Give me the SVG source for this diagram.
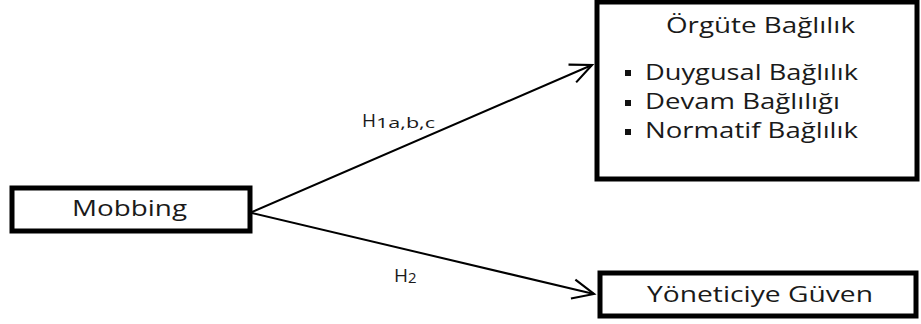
<svg xmlns="http://www.w3.org/2000/svg" width="921" height="324" viewBox="0 0 921 324">
  <style>
    .box { fill: #ffffff; stroke: #000000; stroke-width: 5; }
    .lbl { font-family: "Open Sans", "Noto Sans", "Liberation Sans", sans-serif; font-size: 21px; fill: #1a1a1a; }
    .hyp { font-family: "Open Sans", "Noto Sans", "Liberation Sans", sans-serif; font-size: 19px; fill: #1a1a1a; }
    .sub { font-size: 15px; }
    .edge { fill: none; stroke: #000000; stroke-width: 2; }
    .bullet { fill: #111111; }
  </style>
  <defs>
    <marker id="open-arrow" markerUnits="userSpaceOnUse" markerWidth="30" markerHeight="30" viewBox="-24 -12 28 24" refX="0" refY="0" orient="auto">
      <path d="M-20,-9 L0,0 L-20,9" fill="none" stroke="#000000" stroke-width="2"/>
    </marker>
  </defs>

  <!-- connectors -->
  <g id="connectors">
    <line class="edge" x1="252" y1="212" x2="592" y2="65" marker-end="url(#open-arrow)"/>
    <line class="edge" x1="252" y1="213" x2="594" y2="294" marker-end="url(#open-arrow)"/>
    <text class="hyp" x="362" y="127">H<tspan class="sub" dy="1" textLength="59" lengthAdjust="spacingAndGlyphs">1a,b,c</tspan></text>
    <text class="hyp" x="394" y="282">H<tspan class="sub" dy="1">2</tspan></text>
  </g>

  <!-- source node -->
  <g id="mobbing">
    <rect class="box" x="12" y="188" width="238" height="43"/>
    <text class="lbl" x="72" y="216" textLength="115" lengthAdjust="spacingAndGlyphs">Mobbing</text>
  </g>

  <!-- organisational commitment node -->
  <g id="orgute-baglilik">
    <rect class="box" x="597" y="2" width="320" height="177"/>
    <text class="lbl" x="666" y="33" textLength="189" lengthAdjust="spacingAndGlyphs">Örgüte Bağlılık</text>
    <rect class="bullet" x="625" y="70" width="6" height="6"/>
    <text class="lbl" x="645" y="80" textLength="213" lengthAdjust="spacingAndGlyphs">Duygusal Bağlılık</text>
    <rect class="bullet" x="625" y="100" width="6" height="6"/>
    <text class="lbl" x="645" y="109" textLength="195" lengthAdjust="spacingAndGlyphs">Devam Bağlılığı</text>
    <rect class="bullet" x="625" y="129" width="6" height="6"/>
    <text class="lbl" x="645" y="138" textLength="213" lengthAdjust="spacingAndGlyphs">Normatif Bağlılık</text>
  </g>

  <!-- trust in manager node -->
  <g id="yoneticiye-guven">
    <rect class="box" x="600" y="273" width="316" height="43"/>
    <text class="lbl" x="647" y="302" textLength="226" lengthAdjust="spacingAndGlyphs">Yöneticiye Güven</text>
  </g>
</svg>
